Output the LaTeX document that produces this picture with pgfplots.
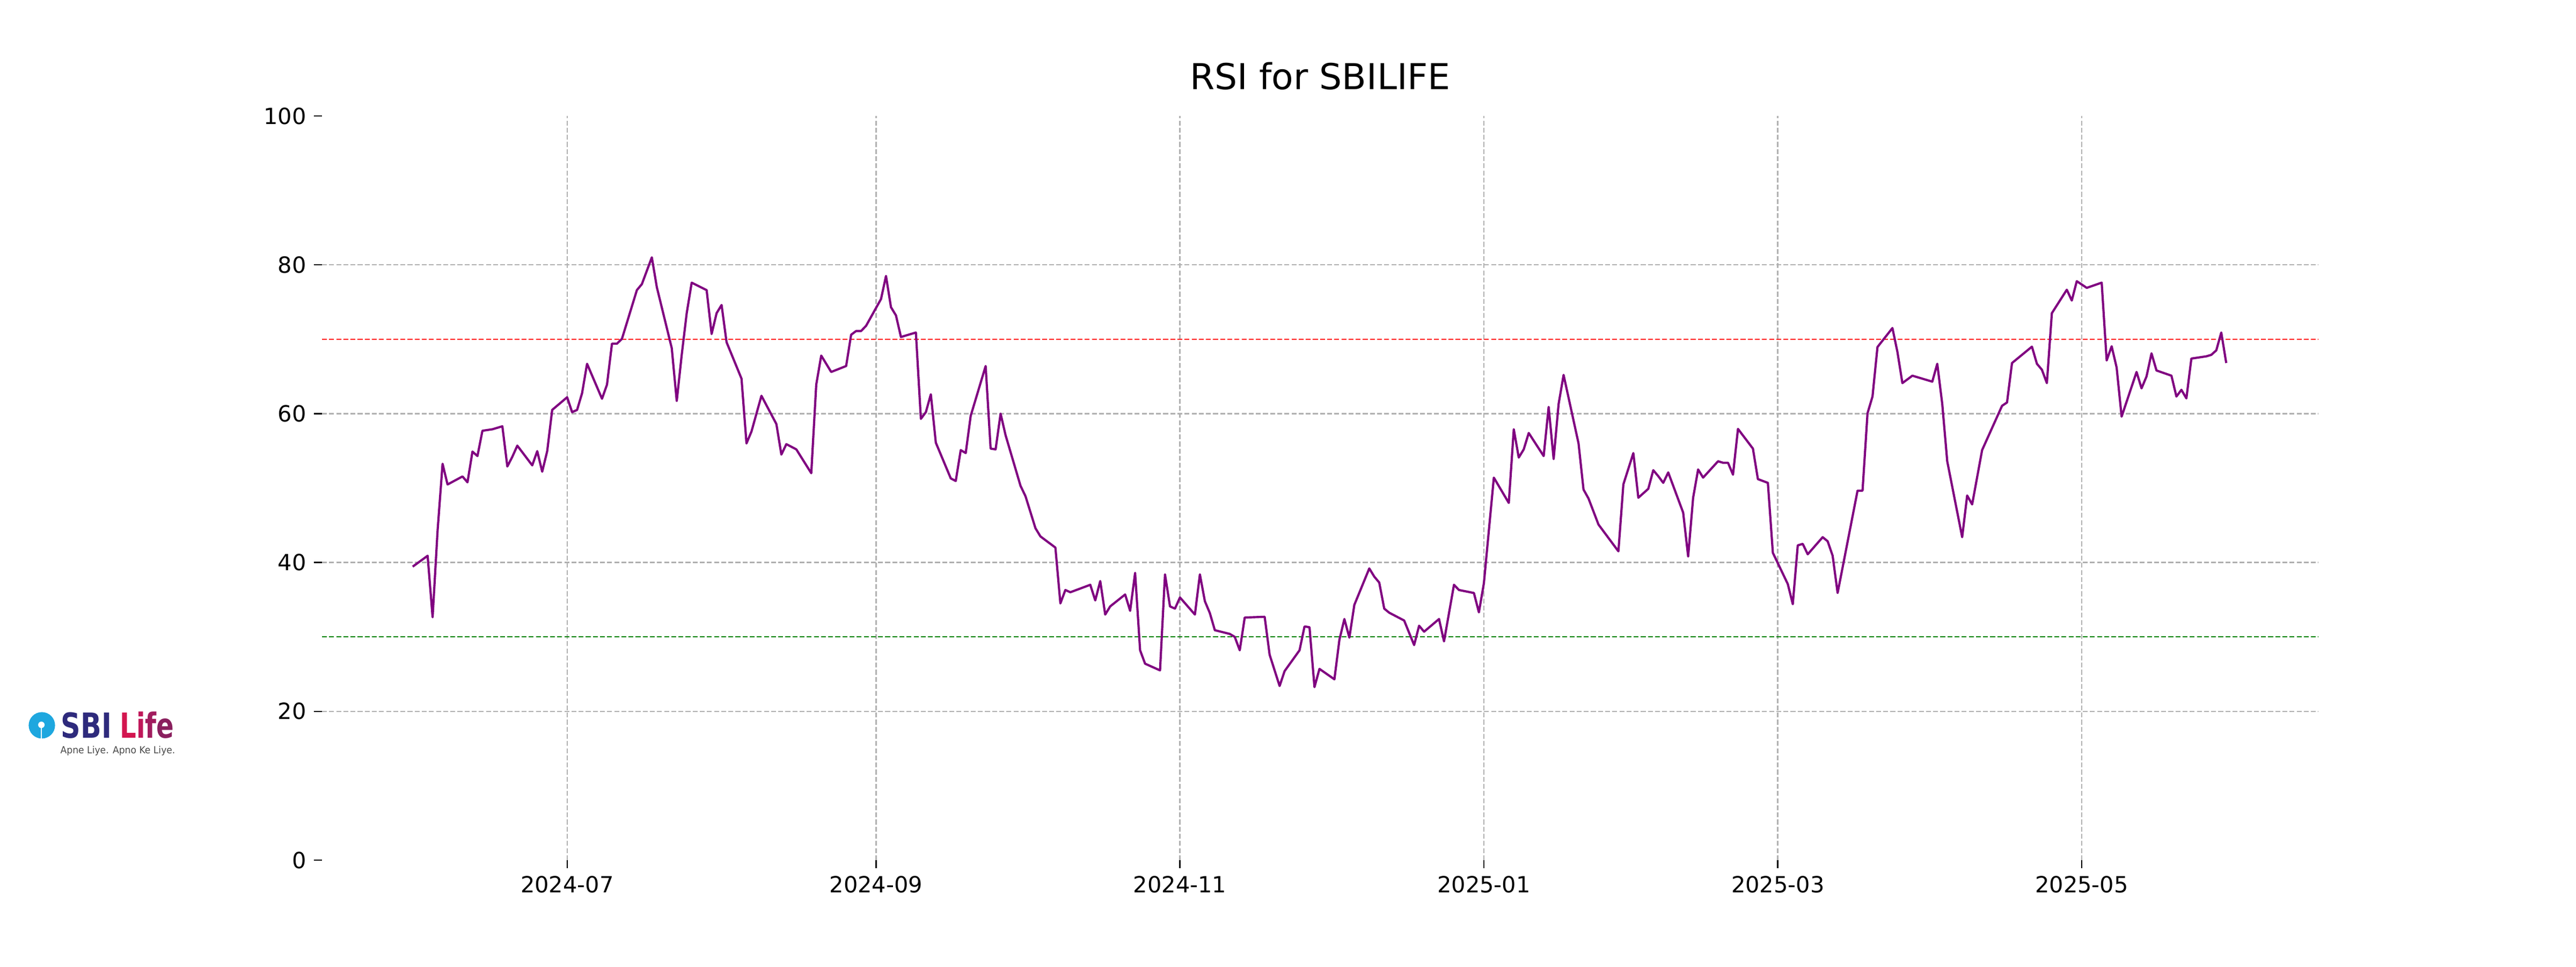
\documentclass[border=0pt]{standalone}
\usepackage{fontspec}
\setmainfont{DejaVu Sans}
\usepackage{pgfplots}
\pgfplotsset{compat=1.18}

\definecolor{rsiline}{HTML}{800080}
\definecolor{gridc}{HTML}{B0B0B0}
\definecolor{lowline}{HTML}{008000}
\definecolor{sbiblue}{HTML}{1EA7DF}
\definecolor{sbinavy}{HTML}{2E2A7C}
\definecolor{lifeA}{HTML}{D3154F}
\definecolor{lifeB}{HTML}{C0185A}
\definecolor{lifeC}{HTML}{A11C5E}
\definecolor{lifeD}{HTML}{8A1F5E}
\definecolor{tagc}{HTML}{4A4A4A}

% x = days since 2024-07-01, y = RSI
\pgfplotstableread{
d v
-31 39.44
-28 40.9
-27 32.64
-26 44.3
-25 53.26
-24 50.48
-21 51.56
-20 50.77
-19 54.9
-18 54.3
-17 57.7
-15 57.9
-13 58.3
-12 52.9
-11 54.2
-10 55.7
-7 53.05
-6 54.96
-5 52.2
-4 54.96
-3 60.5
0 62.2
1 60.2
2 60.5
3 62.75
4 66.7
7 62.0
8 63.9
9 69.4
10 69.4
11 70.05
14 76.6
15 77.4
17 81.0
18 77.0
21 68.8
22 61.7
23 67.9
24 73.5
25 77.6
28 76.6
29 70.7
30 73.5
31 74.6
32 69.6
35 64.7
36 56.0
37 57.6
39 62.4
42 58.6
43 54.5
44 55.9
46 55.2
49 52.0
50 63.9
51 67.8
53 65.6
56 66.4
57 70.6
58 71.1
59 71.1
60 71.8
63 75.4
64 78.5
65 74.3
66 73.2
67 70.3
70 70.9
71 59.3
72 60.2
73 62.6
74 56.1
77 51.3
78 50.95
79 55.1
80 54.7
81 59.7
84 66.4
85 55.3
86 55.2
87 60.0
88 57.1
91 50.3
92 48.9
94 44.6
95 43.5
98 42.0
99 34.5
100 36.3
101 36.0
105 37.0
106 34.9
107 37.5
108 33.0
109 34.1
112 35.7
113 33.5
114 38.6
115 28.2
116 26.4
119 25.5
120 38.4
121 34.1
122 33.8
123 35.3
126 33.0
127 38.4
128 34.8
129 33.2
130 30.9
133 30.4
134 30.0
135 28.2
136 32.6
140 32.7
141 27.6
143 23.4
144 25.4
147 28.2
148 31.4
149 31.3
150 23.25
151 25.7
154 24.3
155 29.6
156 32.4
157 29.9
158 34.3
161 39.2
162 38.1
163 37.3
164 33.8
165 33.25
168 32.2
170 28.9
171 31.5
172 30.7
175 32.4
176 29.4
178 37.0
179 36.3
182 35.9
183 33.3
184 37.2
186 51.4
189 48.0
190 57.9
191 54.1
192 55.2
193 57.4
196 54.3
197 60.9
198 53.9
199 61.3
200 65.2
203 56.0
204 49.8
205 48.6
207 45.1
211 41.5
212 50.5
214 54.7
215 48.7
217 49.9
218 52.4
219 51.6
220 50.7
221 52.1
224 46.7
225 40.8
226 48.7
227 52.5
228 51.4
231 53.6
232 53.4
233 53.4
234 51.8
235 57.95
238 55.3
239 51.2
241 50.7
242 41.3
245 37.1
246 34.4
247 42.3
248 42.5
249 41.1
252 43.4
253 42.85
254 40.9
255 35.9
259 49.65
260 49.65
261 60.05
262 62.3
263 68.95
266 71.5
267 68.3
268 64.1
270 65.1
274 64.3
275 66.7
276 61.3
277 53.6
280 43.4
281 49.0
282 47.8
284 55.1
288 61.05
289 61.5
290 66.8
294 69.0
295 66.7
296 65.9
297 64.1
298 73.5
301 76.65
302 75.2
303 77.8
305 76.9
308 77.6
309 67.15
310 69.05
311 66.2
312 59.6
315 65.6
316 63.4
317 65.0
318 68.1
319 65.8
322 65.1
323 62.3
324 63.2
325 62.05
326 67.4
329 67.7
330 67.9
331 68.5
332 70.9
333 66.8
}\rsidata

\begin{document}
\begin{tikzpicture}
\useasboundingbox (0,0) rectangle (16in,6in);

\begin{axis}[
  at={(2in,0.66in)}, anchor=south west,
  scale only axis, width=12.4in, height=4.62in,
  xmin=-49.2, xmax=351.5, ymin=0, ymax=100,
  axis line style={draw=none},
  tick align=outside, xtick pos=bottom, ytick pos=left,
  major tick length=3.5pt,
  tick style={black, line width=0.6pt},
  xtick={0,62,123,184,243,304},
  xticklabels={2024-07,2024-09,2024-11,2025-01,2025-03,2025-05},
  ytick={0,100},
  extra y ticks={20,40,60,80},
  extra y tick style={grid=major},
  xmajorgrids,
  grid style={gridc, line width=0.6pt, dash pattern=on 2.2pt off 1pt},
  ticklabel style={font=\fontsize{10}{12}\selectfont},
  /pgf/number format/assume math mode=true,
  title={RSI for SBILIFE},
  title style={font=\fontsize{16}{19}\selectfont, anchor=base, yshift=6pt},
]
\addplot[red, line width=0.6pt, dash pattern=on 2.2pt off 1pt] coordinates {(-49.2,70) (351.5,70)};
\addplot[lowline, line width=0.6pt, dash pattern=on 2.2pt off 1pt] coordinates {(-49.2,30) (351.5,30)};
\addplot[rsiline, line width=1pt, line join=round] table[x=d, y=v] {\rsidata};
\end{axis}

% logo
\fill[sbiblue] (0.26in,1.497in) circle (0.082in);
\fill[white] (0.257in,1.5in) circle (0.02in);
\fill[white] (0.2525in,1.5in) rectangle (0.2615in,1.41in);
\node[anchor=base west, inner sep=0, xscale=0.79, text=sbinavy,
  font=\fontsize{15.5}{16}\selectfont\bfseries] at (0.377in,1.417in) {SBI};
\node[anchor=base west, inner sep=0, xscale=0.75,
  font=\fontsize{15.5}{16}\selectfont\bfseries] at (0.743in,1.417in)
  {\textcolor{lifeA}{L}\textcolor{lifeB}{i}\textcolor{lifeC}{f}\textcolor{lifeD}{e}};
\node[anchor=base west, inner sep=0, xscale=0.94, text=tagc,
  font=\fontsize{4.4}{5}\selectfont] at (0.373in,1.323in) {Apne Liye. Apno Ke Liye.};
\end{tikzpicture}
\end{document}
